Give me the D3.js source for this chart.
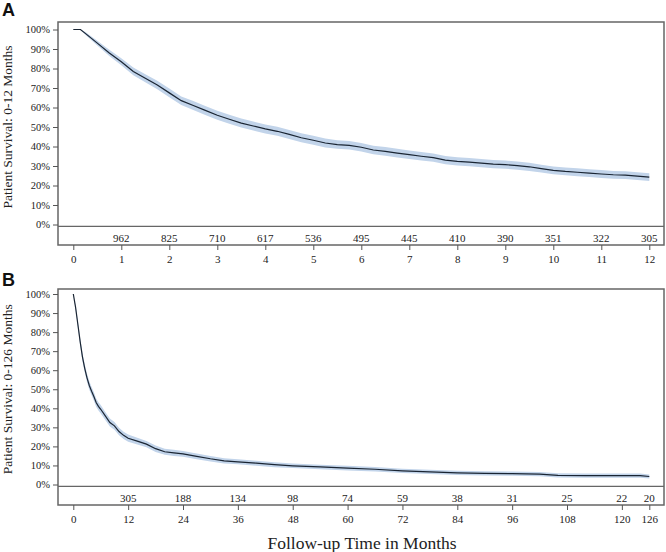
<!DOCTYPE html>
<html lang="en">
<head>
<meta charset="UTF-8">
<title>Patient Survival</title>
<script src="https://cdn.jsdelivr.net/npm/d3@7"></script>
<style>
body { margin: 0; background: #fff; }
svg { display: block; }
</style>
</head>
<body>
<svg id="chart" width="666" height="552"></svg>
<script>

// panel A: first 12 months
const monthsA = [0, 0.15, 0.25, 0.5, 0.75, 1, 1.25, 1.5, 1.75, 2, 2.25, 2.5, 2.75, 3, 3.25, 3.5, 3.75, 4, 4.25, 4.5, 4.75, 5, 5.25, 5.5, 5.75, 6, 6.25, 6.5, 6.75, 7, 7.25, 7.5, 7.75, 8, 8.25, 8.5, 8.75, 9, 9.25, 9.5, 9.75, 10, 10.25, 10.5, 10.75, 11, 11.25, 11.5, 11.75, 12];
const survA = [100, 100, 98, 93, 88, 83.5, 78.5, 75, 71.5, 67.5, 63.5, 61, 58.5, 56, 54, 52, 50.5, 49, 47.8, 46.2, 44.5, 43.2, 41.8, 41, 40.6, 39.6, 38.2, 37.5, 36.6, 35.8, 35, 34.3, 33, 32.4, 32, 31.5, 31, 30.7, 30.2, 29.6, 28.7, 27.8, 27.2, 26.8, 26.3, 25.9, 25.5, 25.3, 24.8, 24.3];
const ciA = [0, 0.3, 0.7, 1.2, 1.6, 1.8, 2.0, 2.1, 2.2, 2.2, 2.2, 2.3, 2.3, 2.3, 2.3, 2.3, 2.3, 2.3, 2.3, 2.3, 2.3, 2.3, 2.3, 2.2, 2.2, 2.2, 2.2, 2.2, 2.2, 2.2, 2.2, 2.1, 2.1, 2.1, 2.1, 2.1, 2.1, 2.1, 2.1, 2.1, 2.0, 2.0, 2.0, 2.0, 2.0, 2.0, 2.0, 2.0, 2.0, 2.0];
const ticksA = [0, 1, 2, 3, 4, 5, 6, 7, 8, 9, 10, 11, 12];
const atRiskA = [null, 962, 825, 710, 617, 536, 495, 445, 410, 390, 351, 322, 305];

// panel B: full follow-up
const monthsB = [0, 0.5, 1, 1.5, 2, 2.5, 3, 3.5, 4, 4.5, 5, 5.5, 6, 7, 8, 9, 10, 11, 12, 14, 16, 18, 20, 22, 24, 27, 30, 33, 36, 40, 44, 48, 54, 60, 66, 72, 78, 84, 90, 96, 102, 106, 112, 118, 124, 126];
const survB = [100, 93, 84, 75, 67, 61, 56, 52, 49, 46.2, 43, 41, 39.5, 36, 32.5, 30.8, 27.8, 25.8, 24.3, 22.8, 21.2, 18.8, 17.2, 16.6, 16.1, 14.8, 13.5, 12.4, 11.9, 11.2, 10.4, 9.8, 9.2, 8.6, 8.0, 7.2, 6.6, 6.1, 5.8, 5.7, 5.4, 4.8, 4.7, 4.7, 4.7, 4.2];
const ciB = [0, 1.0, 1.5, 1.8, 2.0, 2.1, 2.2, 2.2, 2.2, 2.2, 2.2, 2.2, 2.2, 2.1, 2.1, 2.0, 2.0, 1.9, 1.9, 1.8, 1.7, 1.7, 1.6, 1.6, 1.5, 1.5, 1.4, 1.4, 1.3, 1.3, 1.3, 1.2, 1.2, 1.2, 1.2, 1.1, 1.1, 1.1, 1.1, 1.1, 1.1, 1.1, 1.1, 1.1, 1.1, 1.1];
const ticksB = [0, 12, 24, 36, 48, 60, 72, 84, 96, 108, 120, 126];
const atRiskB = [null, 305, 188, 134, 98, 74, 59, 38, 31, 25, 22, 20];

const yTicks = [0, 10, 20, 30, 40, 50, 60, 70, 80, 90, 100];

const svg = d3.select("#chart");
const serif = "'Liberation Serif', 'Times New Roman', serif";

function drawPanel(cfg) {
	const x = d3.scaleLinear().domain([0, cfg.xMax]).range([73.3, 649.3]);
	const y = d3.scaleLinear().domain([0, 100]).range([cfg.y0, cfg.y100]);
	const g = svg.append("g");

	const pts = cfg.months.map((m, i) => ({m: m, s: cfg.surv[i], c: cfg.ci[i]}));

	// confidence band
	const area = d3.area()
		.x(d => x(d.m))
		.y0(d => y(d.s - d.c))
		.y1(d => y(Math.min(100, d.s + d.c)));
	g.append("path")
		.datum(pts)
		.attr("d", area)
		.attr("fill", "#c2d4ea");

	// survival line
	const line = d3.line().x(d => x(d.m)).y(d => y(d.s));
	g.append("path")
		.datum(pts)
		.attr("d", line)
		.attr("fill", "none")
		.attr("stroke", "#1a2533")
		.attr("stroke-width", 1.2);

	// frame
	g.append("rect")
		.attr("x", 58).attr("y", cfg.top)
		.attr("width", 606).attr("height", cfg.bottom - cfg.top)
		.attr("fill", "none")
		.attr("stroke", "#666")
		.attr("stroke-width", 1.5);

	// reference line just under 0%
	g.append("line")
		.attr("x1", 58).attr("x2", 664)
		.attr("y1", y(0) + 1.8).attr("y2", y(0) + 1.8)
		.attr("stroke", "#666")
		.attr("stroke-width", 1.3);

	// y axis
	const yAxis = g.append("g")
		.attr("transform", "translate(58,0)")
		.call(d3.axisLeft(y).tickValues(yTicks).tickFormat(d => d + "%").tickSize(5).tickPadding(3));
	yAxis.select(".domain").remove();
	yAxis.selectAll("line").attr("stroke", "#555");
	yAxis.selectAll("text").attr("font-family", serif).attr("font-size", 10.5).attr("fill", "#222");

	// x axis
	const xAxis = g.append("g")
		.attr("transform", `translate(0,${cfg.bottom})`)
		.call(d3.axisBottom(x).tickValues(cfg.ticks).tickSize(5).tickPadding(5));
	xAxis.select(".domain").remove();
	xAxis.selectAll("line").attr("stroke", "#555");
	xAxis.selectAll("text").attr("font-family", serif).attr("font-size", 11).attr("fill", "#222");

	// number at risk
	g.selectAll(".risk")
		.data(cfg.ticks.map((t, i) => ({t: t, n: cfg.atRisk[i]})).filter(d => d.n !== null))
		.join("text")
		.attr("x", d => x(d.t))
		.attr("y", cfg.bottom - 3)
		.attr("text-anchor", "middle")
		.attr("font-family", serif)
		.attr("font-size", 11)
		.attr("fill", "#222")
		.text(d => d.n);

	// y title
	const yc = (y(0) + y(100)) / 2;
	g.append("text")
		.attr("transform", `translate(12,${yc}) rotate(-90)`)
		.attr("text-anchor", "middle")
		.attr("font-family", serif)
		.attr("font-size", 13.5)
		.attr("fill", "#222")
		.text(cfg.yTitle);

	// panel letter
	g.append("text")
		.attr("x", 2)
		.attr("y", cfg.letterY)
		.attr("font-family", "'Liberation Sans', Arial, sans-serif")
		.attr("font-weight", "bold")
		.attr("font-size", 18)
		.attr("fill", "#111")
		.text(cfg.letter);
}

drawPanel({
	months: monthsA, surv: survA, ci: ciA, ticks: ticksA, atRisk: atRiskA,
	xMax: 12, top: 22, bottom: 245, y0: 224.5, y100: 29.5,
	yTitle: "Patient Survival: 0-12 Months", letter: "A", letterY: 16
});

drawPanel({
	months: monthsB, surv: survB, ci: ciB, ticks: ticksB, atRisk: atRiskB,
	xMax: 126, top: 289, bottom: 505, y0: 484.5, y100: 294,
	yTitle: "Patient Survival: 0-126 Months", letter: "B", letterY: 286
});

// x title
svg.append("text")
	.attr("x", 362)
	.attr("y", 549)
	.attr("text-anchor", "middle")
	.attr("font-family", serif)
	.attr("font-size", 17.5)
	.attr("fill", "#222")
	.text("Follow-up Time in Months");

</script>
</body>
</html>
